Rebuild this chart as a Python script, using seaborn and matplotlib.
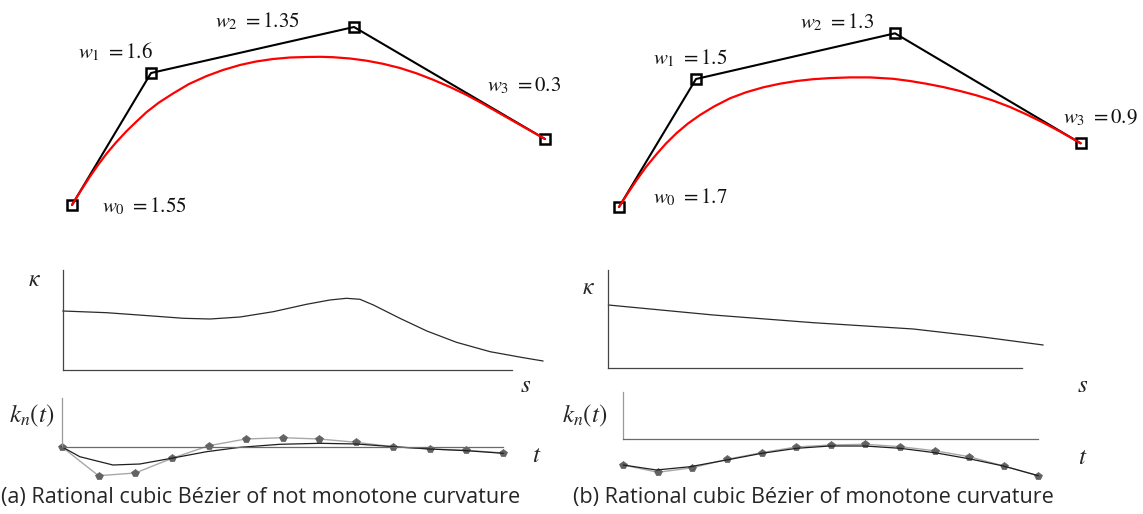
#!/usr/bin/env python3

"""
Rational cubic Bezier curves: control polygons, curvature plots and
normalised curvature k_n(t) for a non-monotone and a monotone case.
"""

import matplotlib
matplotlib.use("Agg")
import matplotlib.pyplot as plt
import seaborn as sns

# ---------------------------------------------------------------- data
# (a) not monotone curvature
ctrl_a_x = [0, 79, 282, 473]
ctrl_a_y = [0, 132, 178, 66]
weights_a = ["1.55", "1.6", "1.35", "0.3"]
curve_a_x = [0, 8, 18, 26, 34.7, 44, 54.7, 64, 74.7, 87, 101, 117, 134.7,
             151, 168, 184, 201, 218, 234.7, 248, 261, 278, 294.7, 311, 328,
             345, 361, 378, 394.7, 411, 428, 450, 473]
curve_a_y = [0, 13, 28.5, 40, 51.5, 62.5, 74, 83, 93, 102.5, 111.5, 121, 129,
             135, 140, 143.5, 146, 147.5, 148, 148.2, 147.8, 146.5, 144.3,
             141.2, 137, 131.5, 125.3, 118, 110, 101.2, 91.5, 79, 66]

kappa_a_s = [0, 0.098, 0.209, 0.269, 0.328, 0.395, 0.469, 0.543, 0.595,
             0.632, 0.662, 0.692, 0.751, 0.811, 0.877, 0.952, 1.026, 1.07]
kappa_a = [0.59, 0.573, 0.537, 0.517, 0.51, 0.53, 0.583, 0.657, 0.70,
           0.717, 0.707, 0.65, 0.517, 0.39, 0.277, 0.183, 0.123, 0.09]

kn_a_t = [0, 0.041, 0.116, 0.177, 0.252, 0.328, 0.404, 0.494, 0.585, 0.668,
          0.75, 0.834, 0.917, 1.0]
kn_a = [0, -1.0, -1.83, -1.73, -1.13, -0.5, -0.06, 0.24, 0.34, 0.27, 0,
        -0.23, -0.4, -0.66]
kn_a_ctrl_t = [0, 1 / 12, 2 / 12, 3 / 12, 4 / 12, 5 / 12, 6 / 12, 7 / 12,
               8 / 12, 9 / 12, 10 / 12, 11 / 12, 1]
kn_a_ctrl = [0, -2.9, -2.63, -1.16, 0.1, 0.77, 0.9, 0.77, 0.44, 0, -0.23,
             -0.36, -0.63]

# (b) monotone curvature
ctrl_b_x = [0, 77, 276, 461.7]
ctrl_b_y = [0, 128, 173.7, 63.7]
weights_b = ["1.7", "1.5", "1.3", "0.9"]
curve_b_x = [0, 8, 17.7, 27, 37.7, 47, 57.7, 69, 81, 95, 111, 127, 144.3,
             161, 177.7, 194, 211, 231, 251, 274.3, 291, 307.7, 324, 341,
             357, 374, 391, 407.7, 424, 441, 451, 461.7]
curve_b_y = [0, 12.5, 27, 40, 53, 63.5, 74, 83.5, 92, 100.5, 108.7, 114.7,
             119.7, 123.3, 126, 127.8, 128.9, 129.6, 129.6, 128.2, 126, 123.2,
             120, 116, 111.8, 106.5, 100, 92.5, 84.5, 75.5, 69.8, 63.7]

kappa_b_s = [0, 0.254, 0.496, 0.738, 0.90, 1.052]
kappa_b = [0.633, 0.533, 0.456, 0.393, 0.316, 0.233]

kn_b_t = [0, 0.080, 0.161, 0.249, 0.334, 0.418, 0.498, 0.582, 0.667, 0.751,
          0.836, 0.916, 1.0]
kn_b = [-2.57, -3.07, -2.74, -2.07, -1.4, -0.9, -0.67, -0.67, -0.9, -1.34,
        -1.97, -2.67, -3.64]
kn_b_ctrl_t = kn_a_ctrl_t
kn_b_ctrl = [-2.57, -3.3, -2.84, -2.0, -1.34, -0.77, -0.57, -0.5, -0.74,
             -1.14, -1.74, -2.67, -3.64]

captions = ["(a) Rational cubic Bézier of not monotone curvature",
            "(b) Rational cubic Bézier of monotone curvature"]

# ---------------------------------------------------------------- style
sns.set_theme(style="white")
plt.rcParams["mathtext.fontset"] = "stix"
plt.rcParams["font.family"] = ["Open Sans", "DejaVu Sans"]

W, H = 1143, 514
fig = plt.figure(figsize=(W / 100, H / 100), dpi=100)
fig.patch.set_facecolor("white")


def place(left, top, width, height):
    """Add an axes given a box in pixel units (origin top-left)."""
    return fig.add_axes([left / W, 1 - (top + height) / H, width / W, height / H])


def label(px, py, text, size=15, **kw):
    fig.text(px / W, 1 - py / H, text, fontsize=size, ha="center", va="center", **kw)


def draw_curve(ax, cx, cy, rx, ry, weights, label_pos):
    sns.lineplot(x=cx, y=cy, ax=ax, sort=False, estimator=None, color="black",
                 linewidth=1.5, marker="s", markersize=6.5, markerfacecolor="none",
                 markeredgecolor="black", markeredgewidth=1.8, clip_on=False, zorder=2)
    sns.lineplot(x=rx, y=ry, ax=ax, sort=False, estimator=None, color="#ff0000",
                 linewidth=1.6, clip_on=False, zorder=3, solid_joinstyle="round")
    for i, (w, (tx, ty)) in enumerate(zip(weights, label_pos)):
        ax.text(tx, ty, rf"$w_{i}\ = {w}$", fontsize=15, ha="left", va="center",
                color="#111111")
    ax.set_aspect("equal")
    ax.axis("off")


def style_axes(ax, ytop, left_color, bottom_color):
    for side in ["top", "right"]:
        ax.spines[side].set_visible(False)
    ax.spines["left"].set_position(("data", 0))
    ax.spines["bottom"].set_position(("data", 0))
    ax.spines["left"].set_color(left_color)
    ax.spines["bottom"].set_color(bottom_color)
    for side in ["left", "bottom"]:
        ax.spines[side].set_linewidth(0.9)
    ax.spines["left"].set_bounds(0, ytop)
    ax.spines["bottom"].set_bounds(0, 1)
    ax.set_xticks([])
    ax.set_yticks([])
    ax.set_facecolor("none")


def draw_kappa(ax, s, k, ytop):
    sns.lineplot(x=s, y=k, ax=ax, sort=False, estimator=None, color="#2a2a2a",
                 linewidth=0.9, clip_on=False, solid_joinstyle="round")
    style_axes(ax, ytop, "#444444", "#444444")


def draw_kn(ax, t, k, ct, ck, ytop):
    sns.lineplot(x=ct, y=ck, ax=ax, sort=False, estimator=None, color="#a8a8a8",
                 linewidth=1.0, marker="p", markersize=6, markerfacecolor="#626262",
                 markeredgecolor="#626262", markeredgewidth=0.5, clip_on=False)
    sns.lineplot(x=t, y=k, ax=ax, sort=False, estimator=None, color="#1e1e1e",
                 linewidth=0.9, clip_on=False, solid_joinstyle="round")
    style_axes(ax, ytop, "#9a9a9a", "#6a6a6a")


# ---------------------------------------------------------------- panel (a)
ax = place(40, 0, 540, 240)
draw_curve(ax, ctrl_a_x, ctrl_a_y, curve_a_x, curve_a_y, weights_a,
           [(30, -1), (6, 153), (143, 184), (415, 119)])
ax.set_xlim(-32, 508)
ax.set_ylim(-35, 205)

ax = place(52.7, 260, 510, 110)
draw_kappa(ax, kappa_a_s, kappa_a, 1.0)
ax.set_xlim(-10 / 449, 500 / 449)
ax.set_ylim(0, 1.1)

ax = place(51.7, 392, 470, 90)
draw_kn(ax, kn_a_t, kn_a, kn_a_ctrl_t, kn_a_ctrl, 4.9)
ax.set_xlim(-10 / 441.6, 460 / 441.6)
ax.set_ylim(-3.53, 5.47)

label(34, 280, r"$\kappa$", size=17)
label(526, 385, r"$s$", size=18)
label(32, 416, r"$k_n\left(t\right)$", size=18)
label(537, 455, r"$t$", size=18)
label(261, 497, captions[0], size=15.6, family=["Open Sans", "DejaVu Sans"])

# ---------------------------------------------------------------- panel (b)
ax = place(580, 0, 563, 240)
draw_curve(ax, ctrl_b_x, ctrl_b_y, curve_b_x, curve_b_y, weights_b,
           [(34, 10), (34, 149), (181, 185), (444, 89)])
ax.set_xlim(-39, 524)
ax.set_ylim(-33, 207)

ax = place(598.3, 258.3, 460, 110)
draw_kappa(ax, kappa_b_s, kappa_b, 0.983)
ax.set_xlim(-10 / 413.4, 450 / 413.4)
ax.set_ylim(0, 1.1)

ax = place(613, 385, 437, 100)
draw_kn(ax, kn_b_t, kn_b, kn_b_ctrl_t, kn_b_ctrl, 4.76)
ax.set_xlim(-10.3 / 415, 426.7 / 415)
ax.set_ylim(-4.57, 5.43)

label(588, 288, r"$\kappa$", size=17)
label(1083, 385, r"$s$", size=18)
label(585, 416, r"$k_n\left(t\right)$", size=18)
label(1083, 457, r"$t$", size=18)
label(813, 497, captions[1], size=15.6, family=["Open Sans", "DejaVu Sans"])

fig.savefig("out.png", dpi=100)
